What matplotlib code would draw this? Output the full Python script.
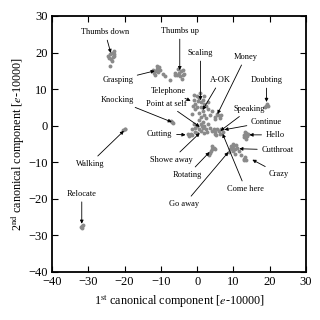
import numpy as np
import matplotlib
matplotlib.use('Agg')
from matplotlib import pyplot as plt

# gesture clusters (units of e-10000)
thumbs_down = [(-24, 19.5), (-23.5, 20), (-23, 19), (-24.2, 18.5), (-23.8, 18.2), (-23.2, 18.8),
               (-22.8, 19.6), (-24.5, 19), (-23.5, 17.8), (-23, 20.3), (-24, 16.2)]
grasping = [(-11, 15.5), (-11.5, 15), (-10.5, 16), (-11.8, 14.5), (-10.8, 14.8), (-11.2, 16.2),
            (-12.2, 15.2), (-10.2, 15.2), (-9.5, 14.2), (-9, 13.5), (-11.5, 13.8)]
thumbs_up = [(-5, 14.5), (-4.5, 15), (-5.5, 14), (-4, 14), (-6, 14.5), (-4.8, 13.5), (-3.8, 15.2),
             (-5.2, 15.5), (-6.2, 13.8), (-3.5, 14.2), (-7.5, 12.5), (-4.2, 12.8)]
upper_center = [(-1, 7), (0, 8), (0.5, 7.5), (1, 6.5), (-0.5, 6), (1.5, 7), (2, 6), (0, 5), (1, 5),
                (2.5, 5.5), (3, 4.5), (1.5, 4), (0.5, 3.5), (-0.5, 4.5), (2, 3), (3.5, 3), (2.5, 2),
                (1, 2.5), (-1.2, 5.5), (0.2, 6.8), (1.8, 8.2), (-0.8, 8.5), (3, 6.5), (4, 4),
                (0.8, 9), (-1.5, 3.2)]
money = [(5, 2.5), (5.8, 2.8), (6.2, 2.2), (5.5, 3.3), (4.8, 1.8), (6.5, 3)]
doubting = [(19, 5.5), (19.2, 6), (18.8, 5.2), (19.4, 5.4)]
center = [(0, 0), (1, 0.5), (1.5, -0.5), (0.5, -1), (-0.5, -0.5), (2, 0), (1, -1.5), (0, -2),
          (2.5, -1), (1.5, 1), (-1, 0.5), (0.5, 1.5), (2, -2), (3, 0.5), (-0.5, -1.8),
          (1.2, -0.2), (3.5, -0.5), (2.8, -1.8), (-1.5, -1)]
speaking = [(4.5, -1), (5, -1.8), (5.5, -0.8), (6, -1.5), (4.8, -2.2), (6.5, -1), (5.2, -2.5),
            (7, -1.8), (4, -1.5), (6.2, -2.3)]
knocking = [(-7, 1), (-6.8, 0.8), (-7.2, 1.2)]
cutting = [(-2, -2.5), (-1.5, -2.5), (-2.3, -2.8), (-1.8, -2.2), (-2.6, -2.4)]
hello = [(13, -2.5), (13.5, -2), (13.8, -2.8), (12.8, -3), (13.2, -1.8), (14, -2.4), (13.5, -3.5)]
cutthroat = [(9.5, -6), (10, -5.5), (10.5, -6.5), (9, -6.5), (10, -7), (11, -6), (9.8, -5),
             (10.8, -5.2), (8.8, -7.2), (11.5, -7), (10.3, -7.6), (9.2, -5.5), (12, -8)]
crazy = [(13, -9), (13.5, -9.3), (13.2, -8.6), (12.8, -9.4)]
rotating = [(4, -6.5), (4.5, -6), (3.8, -7), (4.2, -5.5), (3.5, -7.5), (4.8, -6.4), (3.2, -8)]
walking = [(-20, -1), (-20.5, -1.2), (-19.8, -0.8)]
relocate = [(-31.8, -27.5), (-31.5, -27.2), (-32, -27.8), (-31.7, -28)]

clusters = [thumbs_down, grasping, thumbs_up, upper_center, money, doubting, center, speaking,
            knocking, cutting, hello, cutthroat, crazy, rotating, walking, relocate]

# labels: text position and arrow tip
labels = ['Thumbs down', 'Grasping', 'Thumbs up', 'Scaling', 'Money', 'A-OK', 'Doubting',
          'Telephone', 'Knocking', 'Point at self', 'Speaking', 'Continue', 'Hello',
          'Cutthroat', 'Crazy', 'Cutting', 'Showe away', 'Rotating', 'Come here', 'Go away',
          'Walking', 'Relocate']
label_xy = [(-25.4, 25.6), (-21.9, 12.5), (-4.8, 25.9), (0.9, 19.9), (13.3, 18.8), (6.4, 12.5),
            (19.1, 12.5), (-7.9, 9.5), (-22.1, 7.0), (-8.4, 6.0), (14.4, 4.6), (19.1, 1.0),
            (21.5, -2.5), (22.1, -6.6), (22.6, -13.2), (-10.3, -2.2), (-7, -9.3), (-2.6, -13.4),
            (13.3, -17.3), (-3.5, -21.4), (-29.6, -10.4), (-31.8, -18.6)]
tip_xy = [(-23.8, 19.9), (-11.7, 15.0), (-4.8, 15.2), (0.9, 7.0), (5.6, 3.2), (1.5, 4.3),
          (19.1, 6.5), (-1.8, 6.8), (-7.0, 1.0), (0.7, -0.3), (6.4, -1.4), (7.5, -1.1),
          (14.4, -2.5), (11.6, -6.3), (15.2, -9.3), (-3.2, -2.5), (0.7, -2.0), (3.4, -7.2),
          (7.0, -2.2), (8.6, -7.2), (-20.2, -1.4), (-31.8, -26.8)]

plt.rcParams['font.family'] = ['Liberation Serif', 'DejaVu Serif']
plt.rcParams['mathtext.fontset'] = 'stix'

fig = plt.figure(figsize=(3.2, 3.2), dpi=100)
ax = fig.add_axes([0.1625, 0.15, 0.794, 0.8])

for c in clusters:
    pts = np.array(c)
    ax.plot(pts[:, 0], pts[:, 1], 'o', color='#8a8a8a', markersize=2.8, markeredgewidth=0)

for lab, txy, pxy in zip(labels, label_xy, tip_xy):
    ax.annotate(lab, xy=pxy, xytext=txy, fontsize=6, ha='center', va='center',
                arrowprops=dict(arrowstyle='-|>', lw=0.6, color='black',
                                mutation_scale=5, shrinkA=1, shrinkB=0))

ax.set_xlim(-40, 30)
ax.set_ylim(-40, 30)
ax.set_xticks(np.arange(-40, 31, 10))
ax.set_yticks(np.arange(-40, 31, 10))
ax.tick_params(direction='in', top=True, right=True, length=4, width=0.8, labelsize=9, pad=3)
for s in ax.spines.values():
    s.set_linewidth(1.3)

ax.set_xlabel(r'1$^{\rm st}$ canonical component [$e$-10000]', fontsize=8.7)
ax.set_ylabel(r'2$^{\rm nd}$ canonical component [$e$-10000]', fontsize=8.7, labelpad=2)

fig.savefig('out.png', dpi=100)
